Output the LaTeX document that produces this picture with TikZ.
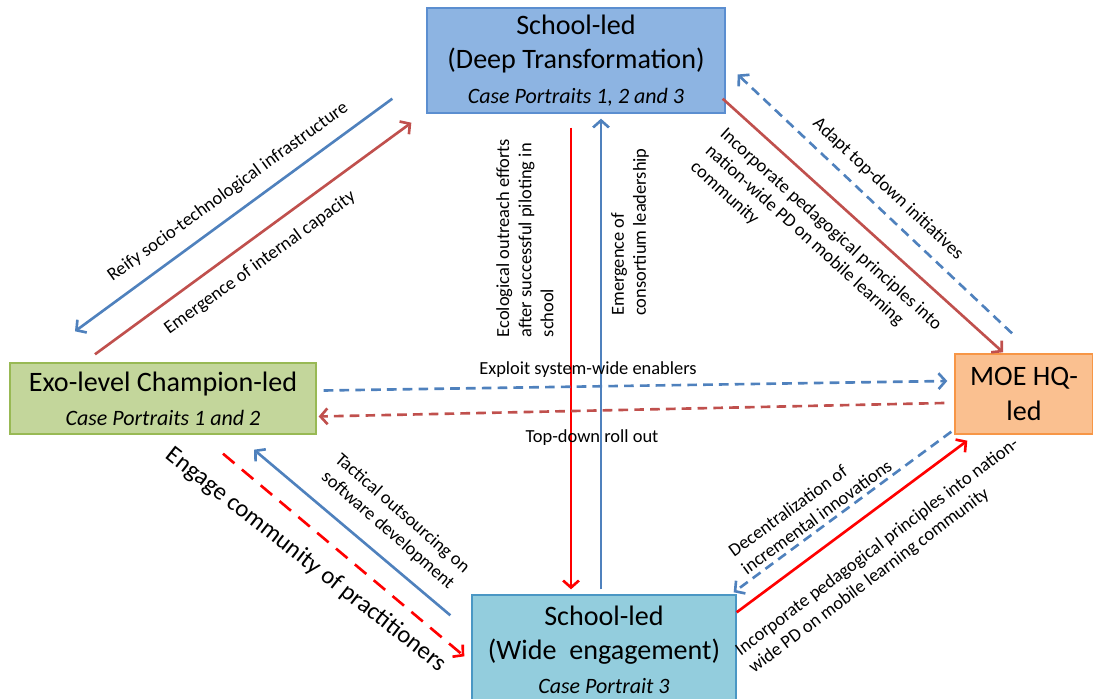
\documentclass[tikz,border=0pt]{standalone}
\usepackage{fontspec}
\setmainfont{Carlito}
\usepackage{xcolor}
\usepackage{tikz}
\usetikzlibrary{arrows.meta,positioning,calc}

\definecolor{lineblue}{HTML}{4F81BD}
\definecolor{linered}{HTML}{C0504D}
\definecolor{brightred}{HTML}{FF0000}
\definecolor{deepfill}{HTML}{8DB4E2}
\definecolor{deepdraw}{HTML}{5B8ED0}
\definecolor{exofill}{HTML}{C3D69B}
\definecolor{exodraw}{HTML}{98B954}
\definecolor{moefill}{HTML}{FAC090}
\definecolor{moedraw}{HTML}{F79646}
\definecolor{widefill}{HTML}{93CDDD}
\definecolor{widedraw}{HTML}{4A97C4}

\begin{document}
\begin{tikzpicture}[
    x=0.02cm, y=-0.02cm,
    box/.style={rectangle, thick, align=center, inner sep=2pt, font=\fontsize{16}{19.5}\selectfont},
    b1/.style={box, draw=deepdraw, fill=deepfill, minimum width=5.96cm, minimum height=2.1cm},
    b2/.style={box, draw=exodraw, fill=exofill, minimum width=6.12cm, minimum height=1.42cm},
    b3/.style={box, draw=moedraw, fill=moefill, minimum width=2.76cm, minimum height=1.6cm},
    b4/.style={box, draw=widedraw, fill=widefill, minimum width=5.28cm, minimum height=2.2cm},
    lbl/.style={align=left, inner sep=0pt, font=\fontsize{10.5}{12.6}\selectfont},
    tip/.style={-{Straight Barb[length=4pt,width=9pt]}},
    arrb/.style={tip, line width=1.5pt, draw=lineblue},
    arrr/.style={tip, line width=1.5pt, draw=linered},
    arrR/.style={tip, line width=1.5pt, draw=brightred},
    dashb/.style={arrb, dash pattern=on 5.5pt off 3.5pt},
    dashr/.style={arrr, dash pattern=on 5.5pt off 3.5pt},
    dashR/.style={arrR, dash pattern=on 8.5pt off 5.5pt}
]
    \useasboundingbox (0,0) rectangle (1093,699);

    % boxes
    \node [b1] (deep) at (576,60.5) {School-led\\(Deep Transformation)\\{\fontsize{12.5}{15}\selectfont\itshape Case Portraits 1, 2 and 3}};
    \node [b2] (exo) at (163,398.5) {Exo-level Champion-led\\{\fontsize{12.5}{15}\selectfont\itshape Case Portraits 1 and 2}};
    \node [b3] (moe) at (1024,394) {MOE HQ-\\led};
    \node [b4] (wide) at (604,650) {School-led\\(Wide~~engagement)\\{\fontsize{12.5}{15}\selectfont\itshape Case Portrait 3}};

    % deep <-> exo
    \draw [arrb] ($(deep.south west)+(-34,-15)$) -- ($(exo.north)+(-88,-31)$);
    \draw [arrr] ($(exo.north)+(-68,-8)$) -- ($(deep.south west)+(-15,9)$);
    \node [lbl, rotate=36] (reify) at (228,192) {Reify socio-technological infrastructure};
    \node [lbl, rotate=36] (capacity) at (260,263) {Emergence of internal capacity};

    % deep <-> wide
    \draw [arrR] ($(deep.south)+(-5,14)$) -- ($(wide.north)+(-33,-5)$);
    \draw [arrb] ($(wide.north)+(-3,-5)$) -- ($(deep.south)+(25,5)$);
    \node [lbl, rotate=90] (outreach) at (525,238) {Ecological outreach efforts\\after successful piloting in\\school};
    \node [lbl, rotate=90] (consortium) at (630,232) {Emergence of\\consortium leadership};

    % deep <-> moe
    \draw [arrr] ($(deep.south east)+(-3,-15)$) -- ($(moe.north)+(-21,-1)$);
    \draw [dashb] ($(moe.north)+(-12,-20)$) -- ($(deep.east)+(12,14)$);
    \node [lbl, rotate=-42] (incorp1) at (816,246) {Incorporate pedagogical principles into\\nation-wide PD on mobile learning\\community};
    \node [lbl, rotate=-43] (adapt) at (888,189) {Adapt top-down initiatives};

    % exo <-> moe
    \draw [dashb] ($(exo.east)+(7,-8)$) -- ($(moe.west)+(-7,-13)$);
    \draw [dashr] ($(moe.west)+(-10,9)$) -- ($(exo.east)+(2,18)$);
    \node [lbl] (exploit) at (588,370) {Exploit system-wide enablers};
    \node [lbl] (rollout) at (592,438) {Top-down roll out};

    % wide <-> moe
    \draw [dashb] ($(moe.south west)+(-3,-3)$) -- ($(wide.north east)+(-3,-2)$);
    \draw [arrR] ($(wide.north east)+(0,18)$) -- ($(moe.south west)+(13,6)$);
    \node [lbl, rotate=36] (decentral) at (810,508) {Decentralization of\\incremental innovations};
    \node [lbl, rotate=37] (incorp2) at (884,556) {Incorporate pedagogical principles into nation-\\wide PD on mobile learning community};

    % wide <-> exo
    \draw [arrb] ($(wide.north west)+(-21,21)$) -- ($(exo.south)+(91,15)$);
    \draw [dashR] ($(exo.south)+(60,19)$) -- ($(wide.north west)+(-7,62)$);
    \node [lbl, align=center, rotate=-41] (tactical) at (395,522) {Tactical outsourcing on\\software development};
    \node [inner sep=0pt, rotate=-38, font=\fontsize{14}{17}\selectfont] (engage) at (306,560) {Engage community of practitioners};
\end{tikzpicture}
\end{document}
